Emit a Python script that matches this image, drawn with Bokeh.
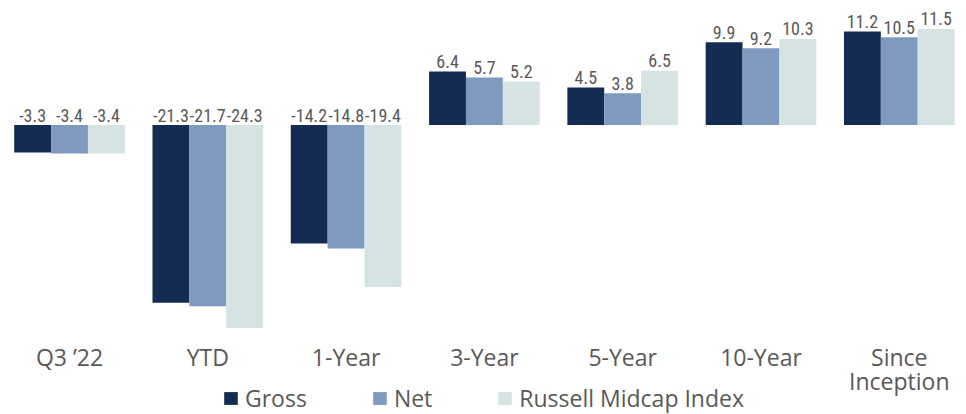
import numpy as np
from bokeh.plotting import figure
from bokeh.models import ColumnDataSource, Range1d, Legend, LegendItem
from bokeh.core.properties import value
from bokeh.embed import file_html
from bokeh.resources import INLINE

categories = ["Q3 \u201922", "YTD", "1-Year", "3-Year", "5-Year", "10-Year", "Since\nInception"]
series_names = ["Gross", "Net", "Russell Midcap Index"]
gross = [-3.3, -21.3, -14.2, 6.4, 4.5, 9.9, 11.2]
net = [-3.4, -21.7, -14.8, 5.7, 3.8, 9.2, 10.5]
russell = [-3.4, -24.3, -19.4, 5.2, 6.5, 10.3, 11.5]
colors = ["#152C52", "#7F99BF", "#D5E3E3"]

LABEL_FONT = "Roboto Condensed, Liberation Sans Narrow, DejaVu Sans Condensed, sans-serif"
CAT_FONT = "Open Sans"

idx = np.arange(len(categories))
bw = 0.8 / 3
offsets = [-bw, 0.0, bw]

p = figure(width=966, height=414, output_backend="svg", toolbar_location=None,
           x_range=Range1d(-0.4989, 6.486), y_range=Range1d(-34.67, 14.91),
           min_border=0, outline_line_color=None)
p.axis.visible = False
p.grid.visible = False
p.background_fill_color = "white"
p.border_fill_color = "white"

items = []
for name, vals, col, off in zip(series_names, [gross, net, russell], colors, offsets):
    src = ColumnDataSource(dict(
        x=idx + off, top=vals,
        ly=[max(v, 0) for v in vals],
        lab=["%.1f" % v for v in vals]))
    r = p.vbar(x="x", top="top", bottom=0, width=bw, source=src,
               fill_color=col, line_color=None)
    p.text(x="x", y="ly", text="lab", source=src, text_align="center",
           text_baseline="alphabetic", y_offset=-10, text_color="#595959",
           text_font=value(LABEL_FONT), text_font_size="18px")
    items.append(LegendItem(label=name, renderers=[r]))

cat_src = ColumnDataSource(dict(x=idx, y=[-25.81] * len(categories), t=categories))
p.text(x="x", y="y", text="t", source=cat_src, text_align="center",
       text_baseline="top", text_color="#595959", text_font=value(CAT_FONT),
       text_font_size="23px", text_line_height=0.76)

legend = Legend(items=items, orientation="horizontal", location="bottom_center",
                glyph_width=17, glyph_height=16, label_text_font_size="23px",
                label_text_font=CAT_FONT, label_text_color="#595959",
                label_standoff=6, spacing=64, padding=0, margin=0,
                border_line_alpha=0, background_fill_alpha=0)
p.add_layout(legend, "center")

open("out.html", "w").write(file_html(p, INLINE))
